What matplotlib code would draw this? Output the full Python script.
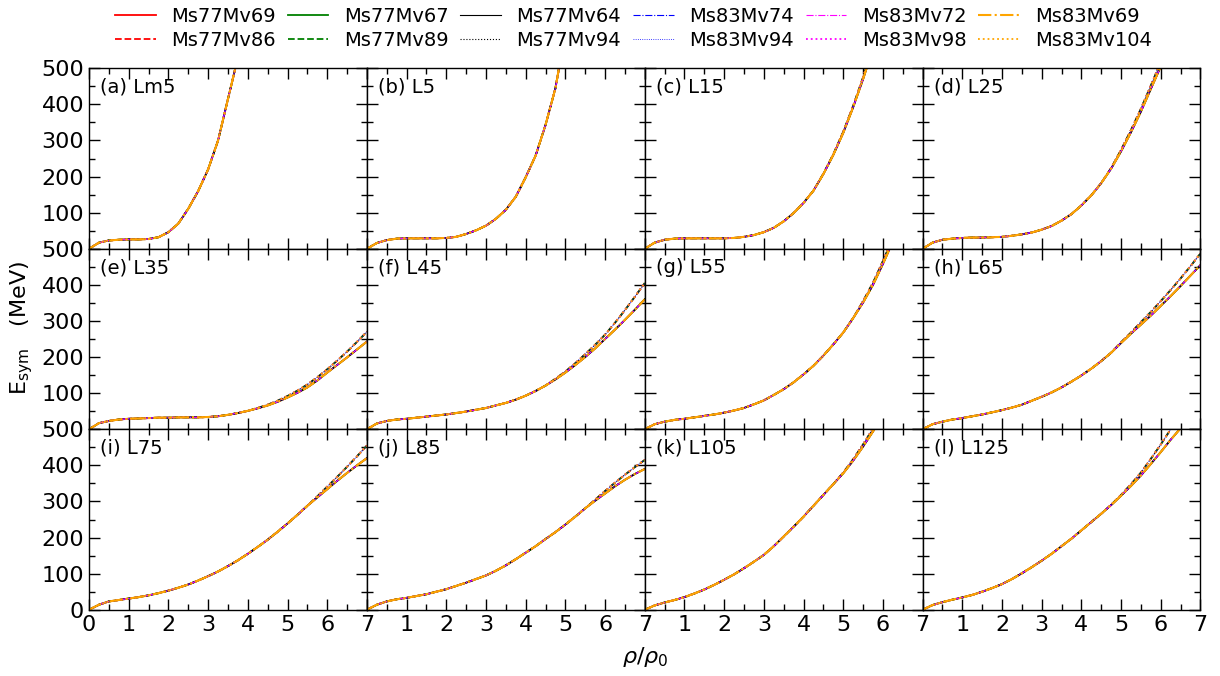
import numpy as np
import matplotlib.pyplot as plt
from matplotlib.ticker import MultipleLocator

# density grid (rho/rho0) used for all read-off curves
rho = [0, 0.25, 0.5, 0.75, 1, 1.25, 1.5, 1.75, 2, 2.25, 2.5, 2.75, 3, 3.25, 3.5,
       3.75, 4, 4.25, 4.5, 4.75, 5, 5.25, 5.5, 5.75, 6, 6.25, 6.5, 6.75, 7]

# Esym (MeV): "soft" = lower-Mv models, "stiff" = higher-Mv models
esym_a_soft = [0, 17, 23, 25, 26, 26, 27, 32, 46, 70, 111, 160, 220, 300, 415, 530]
esym_a_stiff = [0, 17, 23, 25, 26, 26, 27, 32, 46, 70, 111, 160, 220, 300, 415, 530]
esym_b_soft = [0, 16, 24, 28, 29, 29, 29, 29, 30, 33, 41, 51, 64, 83, 108, 144, 198, 258, 343, 445, 600]
esym_b_stiff = [0, 16, 24, 28, 29, 29, 29, 29, 30, 33, 41, 51, 64, 83, 108, 144, 198, 258, 343, 445, 600]
esym_c_soft = [0, 17, 25, 28, 29, 29, 29, 29, 29, 30, 33, 38, 46, 58, 76, 99, 127, 161, 207, 260, 321, 392, 470, 555]
esym_c_stiff = [0, 17, 25, 28, 29, 29, 29, 29, 29, 30, 33, 38, 46, 58, 76, 99, 127, 161, 208, 262, 324, 396, 475, 560]
esym_d_soft = [0, 17, 25, 28, 30, 31, 31, 32, 33, 36, 40, 45, 53, 63, 78, 96, 120, 148, 182, 222, 270, 323, 380, 443, 505]
esym_d_stiff = [0, 17, 25, 28, 30, 31, 31, 32, 33, 36, 40, 45, 53, 63, 78, 96, 120, 148, 182, 224, 274, 329, 388, 452, 518]
esym_e_soft = [0, 17, 23, 27, 29, 30, 31, 32, 32, 33, 33, 33, 34, 36, 40, 45, 51, 58, 66, 76, 88, 101, 116, 135, 157, 178, 199, 221, 243]
esym_e_stiff = [0, 17, 23, 27, 29, 30, 31, 32, 32, 33, 33, 33, 34, 36, 40, 45, 51, 59, 68, 79, 92, 107, 124, 144, 166, 190, 215, 242, 270]
esym_f_soft = [0, 16, 23, 27, 29, 32, 35, 38, 41, 45, 49, 54, 59, 66, 73, 82, 93, 106, 121, 138, 157, 178, 200, 224, 250, 276, 303, 331, 360]
esym_f_stiff = [0, 16, 23, 27, 29, 32, 35, 38, 41, 45, 49, 54, 59, 66, 73, 82, 93, 106, 121, 140, 160, 183, 208, 234, 262, 295, 330, 367, 405]
esym_g_soft = [0, 14, 21, 26, 29, 33, 37, 41, 46, 52, 59, 69, 80, 95, 111, 130, 152, 176, 204, 235, 268, 308, 351, 400, 458, 520]
esym_g_stiff = [0, 14, 21, 26, 29, 33, 37, 41, 46, 52, 59, 69, 80, 95, 111, 130, 152, 176, 204, 235, 268, 308, 355, 406, 466, 530]
esym_h_soft = [0, 14, 21, 27, 31, 36, 41, 47, 53, 60, 68, 79, 90, 102, 116, 132, 149, 168, 189, 212, 239, 265, 290, 315, 342, 369, 397, 426, 455]
esym_h_stiff = [0, 14, 21, 27, 31, 36, 41, 47, 53, 60, 68, 79, 90, 102, 116, 132, 149, 168, 189, 212, 241, 268, 297, 325, 355, 386, 418, 452, 487]
esym_i_soft = [0, 14, 23, 27, 31, 35, 40, 46, 53, 61, 70, 81, 93, 106, 121, 137, 155, 174, 194, 216, 239, 263, 288, 311, 334, 357, 379, 400, 420]
esym_i_stiff = [0, 14, 23, 27, 31, 35, 40, 46, 53, 61, 70, 81, 93, 106, 121, 137, 155, 174, 194, 216, 239, 263, 288, 314, 341, 368, 396, 425, 455]
esym_j_soft = [0, 14, 23, 29, 33, 38, 43, 50, 57, 66, 75, 85, 95, 108, 123, 140, 158, 176, 196, 215, 236, 258, 281, 302, 322, 342, 360, 376, 390]
esym_j_stiff = [0, 14, 23, 29, 33, 38, 43, 50, 57, 66, 75, 85, 95, 108, 123, 140, 158, 176, 196, 215, 236, 258, 281, 305, 329, 352, 374, 395, 415]
esym_k_soft = [0, 12, 20, 27, 35, 45, 56, 69, 83, 98, 115, 133, 152, 176, 203, 230, 258, 288, 318, 348, 378, 413, 452, 494, 535]
esym_k_stiff = [0, 12, 20, 27, 35, 45, 56, 69, 83, 98, 115, 133, 152, 176, 203, 230, 258, 288, 318, 348, 380, 417, 458, 502, 545]
esym_l_soft = [0, 13, 21, 28, 34, 41, 50, 60, 71, 85, 101, 118, 136, 155, 176, 197, 220, 243, 266, 290, 316, 343, 372, 404, 437, 471, 503]
esym_l_stiff = [0, 13, 21, 28, 34, 41, 50, 60, 71, 85, 101, 118, 136, 155, 176, 197, 220, 243, 266, 291, 318, 348, 380, 418, 458, 500, 545]

panel_labels = ['(a) Lm5', '(b) L5', '(c) L15', '(d) L25', '(e) L35', '(f) L45',
                '(g) L55', '(h) L65', '(i) L75', '(j) L85', '(k) L105', '(l) L125']
soft_curves = [esym_a_soft, esym_b_soft, esym_c_soft, esym_d_soft, esym_e_soft, esym_f_soft,
               esym_g_soft, esym_h_soft, esym_i_soft, esym_j_soft, esym_k_soft, esym_l_soft]
stiff_curves = [esym_a_stiff, esym_b_stiff, esym_c_stiff, esym_d_stiff, esym_e_stiff, esym_f_stiff,
                esym_g_stiff, esym_h_stiff, esym_i_stiff, esym_j_stiff, esym_k_stiff, esym_l_stiff]

# models in legend order (column-wise fill): name, group, color, linestyle, width
models = [
    ('Ms77Mv69', 'soft', 'red', '-', 1.3),
    ('Ms77Mv86', 'stiff', 'red', '--', 1.3),
    ('Ms77Mv67', 'soft', 'green', '-', 1.3),
    ('Ms77Mv89', 'stiff', 'green', '--', 1.3),
    ('Ms77Mv64', 'soft', 'black', '-', 0.8),
    ('Ms77Mv94', 'stiff', 'black', ':', 0.8),
    ('Ms83Mv74', 'soft', 'blue', '-.', 0.8),
    ('Ms83Mv94', 'stiff', 'blue', ':', 0.6),
    ('Ms83Mv72', 'soft', 'magenta', '-.', 0.8),
    ('Ms83Mv98', 'stiff', 'magenta', ':', 1.3),
    ('Ms83Mv69', 'soft', 'orange', '-.', 1.5),
    ('Ms83Mv104', 'stiff', 'orange', ':', 1.3),
]

xtick_vals = [0, 1, 2, 3, 4, 5, 6, 7]
ytick_vals = [0, 100, 200, 300, 400, 500]

fig, axes = plt.subplots(3, 4, figsize=(12.2, 6.76), dpi=100)
plt.subplots_adjust(left=0.073, right=0.984, top=0.899, bottom=0.098, wspace=0, hspace=0)

for k, ax in enumerate(axes.flat):
    for name, group, col, ls, lw in models:
        ys = soft_curves[k] if group == 'soft' else stiff_curves[k]
        ax.plot(rho[:len(ys)], ys, color=col, linestyle=ls, linewidth=lw, label=name)
    ax.set_xlim(0, 7)
    ax.set_ylim(0, 500)
    row, colidx = divmod(k, 4)
    ax.set_xticks(xtick_vals)
    ax.set_xticklabels([str(v) if (v > 0 or colidx == 0) else '' for v in xtick_vals])
    ax.set_yticks(ytick_vals)
    ax.set_yticklabels([str(v) if (v > 0 or row == 2) else '' for v in ytick_vals])
    ax.xaxis.set_minor_locator(MultipleLocator(0.5))
    ax.yaxis.set_minor_locator(MultipleLocator(50))
    ax.tick_params(which='both', direction='in', top=True, right=True, width=1.0, labelsize=16)
    ax.tick_params(which='major', length=8)
    ax.tick_params(which='minor', length=4.5)
    for sp in ax.spines.values():
        sp.set_linewidth(1.0)
    ax.text(0.04, 0.895, panel_labels[k], transform=ax.transAxes, fontsize=14, va='center', ha='left')
    if row < 2:
        ax.tick_params(labelbottom=False)
    if colidx > 0:
        ax.tick_params(labelleft=False)

handles, labels = axes[0, 0].get_legend_handles_labels()
fig.legend(handles, labels, loc='upper center', bbox_to_anchor=(0.519, 1.016), ncol=6,
           frameon=False, fontsize=14, handlelength=2.1, handletextpad=0.8,
           columnspacing=0.6, labelspacing=0.25)

fig.text(0.018, 0.515, r'E$_{\rm sym}$   (MeV)', rotation=90, fontsize=16, va='center', ha='center')
fig.text(0.529, 0.028, r'$\rho/\rho_0$', fontsize=16, va='center', ha='center')

plt.savefig('out.png', dpi=100)
